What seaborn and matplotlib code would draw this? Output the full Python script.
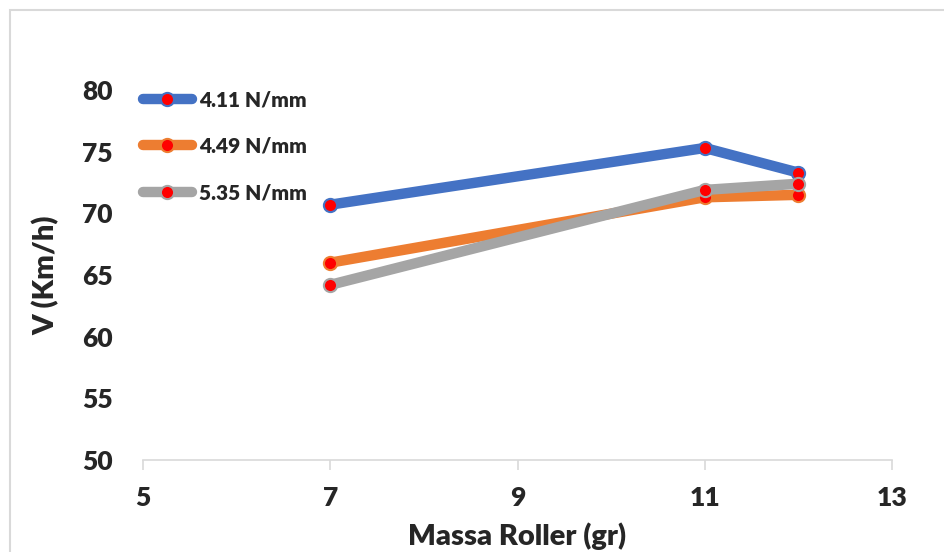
import matplotlib
matplotlib.use("Agg")
import matplotlib.pyplot as plt
import seaborn as sns
import pandas as pd
from matplotlib.patches import Rectangle

# Roller mass (gr) and top speed (km/h) for three spring stiffnesses
massa_roller = [7, 11, 12]
v_411 = [70.7, 75.3, 73.3]
v_449 = [66.0, 71.3, 71.5]
v_535 = [64.2, 71.9, 72.4]
series_labels = ["4.11 N/mm", "4.49 N/mm", "5.35 N/mm"]
series_colors = ["#4472C4", "#ED7D31", "#A5A5A5"]

x_ticks = [5, 7, 9, 11, 13]
y_ticks = [50, 55, 60, 65, 70, 75, 80]

sns.set_theme(style="white")
plt.rcParams["font.family"] = ["Lato", "DejaVu Sans"]
plt.rcParams["font.weight"] = "heavy"

fig = plt.figure(figsize=(9.44, 5.52), dpi=100)
ax = fig.add_axes([143 / 944, 92 / 552, (892 - 143) / 944, (460 - 90) / 552])

for vals, lab, col in zip([v_411, v_449, v_535], series_labels, series_colors):
    df = pd.DataFrame({"massa": massa_roller, "v": vals})
    sns.lineplot(data=df, x="massa", y="v", ax=ax, color=col, label=lab,
                 linewidth=7.5, marker="o", markersize=9.5,
                 markerfacecolor="#FF0000", markeredgecolor=col,
                 markeredgewidth=1.5, solid_capstyle="round",
                 solid_joinstyle="round", estimator=None, sort=False)

ax.set_xlim(5, 13)
ax.set_ylim(50, 80)
ax.set_xticks(x_ticks)
ax.set_yticks(y_ticks)
ax.set_xticklabels([str(t) for t in x_ticks], fontsize=19, fontweight="heavy")
ax.set_yticklabels([str(t) for t in y_ticks], fontsize=19, fontweight="heavy")

for side in ["top", "right", "left"]:
    ax.spines[side].set_visible(False)
ax.spines["bottom"].set_color("#D9D9D9")
ax.spines["bottom"].set_linewidth(1.2)
ax.tick_params(axis="x", direction="out", length=7, width=1.2,
               color="#D9D9D9", pad=12, bottom=True)
ax.tick_params(axis="y", length=0, pad=22)
ax.grid(False)

ax.set_xlabel("Massa Roller (gr)", fontsize=21, fontweight="heavy", labelpad=9)
ax.set_ylabel("V (Km/h)", fontsize=21, fontweight="heavy", labelpad=16)

leg = ax.legend(loc="upper left", bbox_to_anchor=(143 / 944, 1 - 90 / 552),
                bbox_transform=fig.transFigure, frameon=False,
                prop={"family": "Lato", "weight": "heavy", "size": 15},
                handlelength=2.35, handletextpad=0.34, labelspacing=1.32,
                borderaxespad=0, borderpad=0)

# Light chart frame around the figure
fig.patches.append(Rectangle((10 / 944, -0.05), 1.2, 1 - 10 / 552 + 0.05,
                             transform=fig.transFigure, fill=False,
                             edgecolor="#D9D9D9", linewidth=1.5))

fig.savefig("out.png", dpi=100)
